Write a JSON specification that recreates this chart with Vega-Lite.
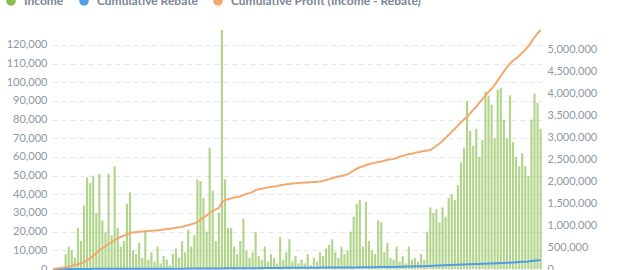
{
  "$schema": "https://vega.github.io/schema/vega-lite/v6.json",
  "width": 490,
  "height": 239,
  "autosize": {"type": "none"},
  "padding": {"left": 52, "top": 30, "right": 80, "bottom": 1},
  "config": {
    "font": "Lato",
    "view": {"stroke": null},
    "axis": {
      "labelFont": "Lato",
      "labelFontSize": 11,
      "labelColor": "#8e96a6",
      "labelOverlap": false,
      "domain": false,
      "ticks": false,
      "labelPadding": 5,
      "title": null
    }
  },
  "data": {
    "values": [
      {"day": 0, "income": 0, "rebate": 0, "profit": 0},
      {"day": 1, "income": 300, "rebate": 0, "profit": 10000},
      {"day": 2, "income": 500, "rebate": 0, "profit": 20000},
      {"day": 3, "income": 800, "rebate": 0, "profit": 30000},
      {"day": 4, "income": 8000, "rebate": 500, "profit": 40000},
      {"day": 5, "income": 12000, "rebate": 500, "profit": 50000},
      {"day": 6, "income": 10000, "rebate": 1000, "profit": 70000},
      {"day": 7, "income": 6000, "rebate": 1000, "profit": 90000},
      {"day": 8, "income": 22000, "rebate": 1000, "profit": 110000},
      {"day": 9, "income": 15000, "rebate": 1500, "profit": 130000},
      {"day": 10, "income": 34000, "rebate": 2000, "profit": 150000},
      {"day": 11, "income": 49000, "rebate": 2000, "profit": 200000},
      {"day": 12, "income": 46000, "rebate": 2500, "profit": 250000},
      {"day": 13, "income": 50000, "rebate": 3000, "profit": 300000},
      {"day": 14, "income": 30000, "rebate": 3000, "profit": 360000},
      {"day": 15, "income": 51000, "rebate": 3000, "profit": 430000},
      {"day": 16, "income": 26000, "rebate": 3500, "profit": 470000},
      {"day": 17, "income": 20000, "rebate": 3500, "profit": 520000},
      {"day": 18, "income": 51000, "rebate": 4000, "profit": 570000},
      {"day": 19, "income": 18000, "rebate": 4000, "profit": 610000},
      {"day": 20, "income": 55000, "rebate": 4000, "profit": 660000},
      {"day": 21, "income": 22000, "rebate": 4500, "profit": 700000},
      {"day": 22, "income": 12000, "rebate": 4500, "profit": 730000},
      {"day": 23, "income": 15000, "rebate": 5000, "profit": 760000},
      {"day": 24, "income": 35000, "rebate": 5000, "profit": 790000},
      {"day": 25, "income": 41000, "rebate": 5000, "profit": 820000},
      {"day": 26, "income": 10000, "rebate": 5500, "profit": 830000},
      {"day": 27, "income": 8000, "rebate": 5500, "profit": 840000},
      {"day": 28, "income": 14000, "rebate": 6000, "profit": 850000},
      {"day": 29, "income": 6000, "rebate": 6000, "profit": 855000},
      {"day": 30, "income": 20000, "rebate": 6000, "profit": 860000},
      {"day": 31, "income": 5000, "rebate": 6000, "profit": 865000},
      {"day": 32, "income": 9000, "rebate": 6500, "profit": 870000},
      {"day": 33, "income": 4000, "rebate": 6500, "profit": 875000},
      {"day": 34, "income": 12000, "rebate": 7000, "profit": 885000},
      {"day": 35, "income": 3000, "rebate": 7000, "profit": 890000},
      {"day": 36, "income": 7000, "rebate": 7000, "profit": 900000},
      {"day": 37, "income": 5000, "rebate": 7500, "profit": 910000},
      {"day": 38, "income": 2000, "rebate": 7500, "profit": 920000},
      {"day": 39, "income": 8000, "rebate": 8000, "profit": 930000},
      {"day": 40, "income": 11000, "rebate": 8000, "profit": 940000},
      {"day": 41, "income": 6000, "rebate": 8000, "profit": 950000},
      {"day": 42, "income": 15000, "rebate": 8500, "profit": 960000},
      {"day": 43, "income": 9000, "rebate": 8500, "profit": 980000},
      {"day": 44, "income": 21000, "rebate": 9000, "profit": 1000000},
      {"day": 45, "income": 12000, "rebate": 9000, "profit": 1020000},
      {"day": 46, "income": 18000, "rebate": 9000, "profit": 1040000},
      {"day": 47, "income": 48000, "rebate": 9500, "profit": 1070000},
      {"day": 48, "income": 47000, "rebate": 9500, "profit": 1120000},
      {"day": 49, "income": 38000, "rebate": 10000, "profit": 1170000},
      {"day": 50, "income": 20000, "rebate": 10000, "profit": 1220000},
      {"day": 51, "income": 65000, "rebate": 11000, "profit": 1280000},
      {"day": 52, "income": 42000, "rebate": 12000, "profit": 1320000},
      {"day": 53, "income": 15000, "rebate": 12000, "profit": 1360000},
      {"day": 54, "income": 30000, "rebate": 13000, "profit": 1390000},
      {"day": 55, "income": 128000, "rebate": 14000, "profit": 1520000},
      {"day": 56, "income": 48000, "rebate": 15000, "profit": 1570000},
      {"day": 57, "income": 22000, "rebate": 15000, "profit": 1590000},
      {"day": 58, "income": 22000, "rebate": 15000, "profit": 1610000},
      {"day": 59, "income": 12000, "rebate": 16000, "profit": 1630000},
      {"day": 60, "income": 8000, "rebate": 16000, "profit": 1640000},
      {"day": 61, "income": 15000, "rebate": 16000, "profit": 1660000},
      {"day": 62, "income": 27000, "rebate": 17000, "profit": 1690000},
      {"day": 63, "income": 10000, "rebate": 17000, "profit": 1710000},
      {"day": 64, "income": 6000, "rebate": 18000, "profit": 1730000},
      {"day": 65, "income": 9000, "rebate": 18000, "profit": 1760000},
      {"day": 66, "income": 20000, "rebate": 19000, "profit": 1800000},
      {"day": 67, "income": 7000, "rebate": 19000, "profit": 1820000},
      {"day": 68, "income": 5000, "rebate": 20000, "profit": 1830000},
      {"day": 69, "income": 12000, "rebate": 20000, "profit": 1850000},
      {"day": 70, "income": 4000, "rebate": 20000, "profit": 1860000},
      {"day": 71, "income": 8000, "rebate": 21000, "profit": 1870000},
      {"day": 72, "income": 6000, "rebate": 22000, "profit": 1880000},
      {"day": 73, "income": 3000, "rebate": 23000, "profit": 1890000},
      {"day": 74, "income": 17000, "rebate": 24000, "profit": 1910000},
      {"day": 75, "income": 5000, "rebate": 25000, "profit": 1920000},
      {"day": 76, "income": 9000, "rebate": 26000, "profit": 1930000},
      {"day": 77, "income": 16000, "rebate": 26000, "profit": 1940000},
      {"day": 78, "income": 4000, "rebate": 27000, "profit": 1950000},
      {"day": 79, "income": 7000, "rebate": 27000, "profit": 1955000},
      {"day": 80, "income": 3000, "rebate": 28000, "profit": 1960000},
      {"day": 81, "income": 5000, "rebate": 28000, "profit": 1965000},
      {"day": 82, "income": 3000, "rebate": 29000, "profit": 1970000},
      {"day": 83, "income": 8000, "rebate": 29000, "profit": 1975000},
      {"day": 84, "income": 2000, "rebate": 30000, "profit": 1980000},
      {"day": 85, "income": 6000, "rebate": 30000, "profit": 1985000},
      {"day": 86, "income": 4000, "rebate": 31000, "profit": 1990000},
      {"day": 87, "income": 9000, "rebate": 31000, "profit": 1995000},
      {"day": 88, "income": 7000, "rebate": 32000, "profit": 2010000},
      {"day": 89, "income": 11000, "rebate": 32000, "profit": 2030000},
      {"day": 90, "income": 13000, "rebate": 33000, "profit": 2050000},
      {"day": 91, "income": 16000, "rebate": 33000, "profit": 2070000},
      {"day": 92, "income": 9000, "rebate": 34000, "profit": 2090000},
      {"day": 93, "income": 6000, "rebate": 34000, "profit": 2110000},
      {"day": 94, "income": 12000, "rebate": 35000, "profit": 2120000},
      {"day": 95, "income": 8000, "rebate": 35000, "profit": 2140000},
      {"day": 96, "income": 10000, "rebate": 36000, "profit": 2160000},
      {"day": 97, "income": 20000, "rebate": 36000, "profit": 2200000},
      {"day": 98, "income": 28000, "rebate": 37000, "profit": 2250000},
      {"day": 99, "income": 35000, "rebate": 37000, "profit": 2290000},
      {"day": 100, "income": 37000, "rebate": 38000, "profit": 2320000},
      {"day": 101, "income": 12000, "rebate": 38000, "profit": 2340000},
      {"day": 102, "income": 36000, "rebate": 39000, "profit": 2370000},
      {"day": 103, "income": 15000, "rebate": 40000, "profit": 2390000},
      {"day": 104, "income": 10000, "rebate": 41000, "profit": 2410000},
      {"day": 105, "income": 8000, "rebate": 42000, "profit": 2420000},
      {"day": 106, "income": 26000, "rebate": 43000, "profit": 2440000},
      {"day": 107, "income": 25000, "rebate": 44000, "profit": 2450000},
      {"day": 108, "income": 9000, "rebate": 44000, "profit": 2470000},
      {"day": 109, "income": 14000, "rebate": 45000, "profit": 2490000},
      {"day": 110, "income": 6000, "rebate": 45000, "profit": 2500000},
      {"day": 111, "income": 5000, "rebate": 47000, "profit": 2510000},
      {"day": 112, "income": 12000, "rebate": 49000, "profit": 2530000},
      {"day": 113, "income": 4000, "rebate": 51000, "profit": 2560000},
      {"day": 114, "income": 7000, "rebate": 53000, "profit": 2580000},
      {"day": 115, "income": 3000, "rebate": 55000, "profit": 2600000},
      {"day": 116, "income": 12000, "rebate": 57000, "profit": 2620000},
      {"day": 117, "income": 5000, "rebate": 59000, "profit": 2630000},
      {"day": 118, "income": 6000, "rebate": 60000, "profit": 2650000},
      {"day": 119, "income": 4000, "rebate": 61000, "profit": 2660000},
      {"day": 120, "income": 8000, "rebate": 62000, "profit": 2680000},
      {"day": 121, "income": 5000, "rebate": 65000, "profit": 2690000},
      {"day": 122, "income": 20000, "rebate": 68000, "profit": 2700000},
      {"day": 123, "income": 33000, "rebate": 71000, "profit": 2710000},
      {"day": 124, "income": 30000, "rebate": 74000, "profit": 2760000},
      {"day": 125, "income": 32000, "rebate": 77000, "profit": 2810000},
      {"day": 126, "income": 25000, "rebate": 80000, "profit": 2860000},
      {"day": 127, "income": 33000, "rebate": 83000, "profit": 2920000},
      {"day": 128, "income": 28000, "rebate": 86000, "profit": 2990000},
      {"day": 129, "income": 38000, "rebate": 89000, "profit": 3060000},
      {"day": 130, "income": 40000, "rebate": 92000, "profit": 3130000},
      {"day": 131, "income": 37000, "rebate": 95000, "profit": 3200000},
      {"day": 132, "income": 45000, "rebate": 98000, "profit": 3270000},
      {"day": 133, "income": 57000, "rebate": 101000, "profit": 3340000},
      {"day": 134, "income": 65000, "rebate": 104000, "profit": 3410000},
      {"day": 135, "income": 90000, "rebate": 107000, "profit": 3470000},
      {"day": 136, "income": 74000, "rebate": 110000, "profit": 3550000},
      {"day": 137, "income": 66000, "rebate": 112000, "profit": 3630000},
      {"day": 138, "income": 75000, "rebate": 114000, "profit": 3700000},
      {"day": 139, "income": 60000, "rebate": 116000, "profit": 3790000},
      {"day": 140, "income": 69000, "rebate": 118000, "profit": 3870000},
      {"day": 141, "income": 95000, "rebate": 120000, "profit": 3960000},
      {"day": 142, "income": 93000, "rebate": 123000, "profit": 4040000},
      {"day": 143, "income": 88000, "rebate": 126000, "profit": 4110000},
      {"day": 144, "income": 70000, "rebate": 129000, "profit": 4200000},
      {"day": 145, "income": 96000, "rebate": 132000, "profit": 4300000},
      {"day": 146, "income": 97000, "rebate": 135000, "profit": 4400000},
      {"day": 147, "income": 80000, "rebate": 138000, "profit": 4500000},
      {"day": 148, "income": 70000, "rebate": 141000, "profit": 4600000},
      {"day": 149, "income": 93000, "rebate": 144000, "profit": 4680000},
      {"day": 150, "income": 68000, "rebate": 148000, "profit": 4750000},
      {"day": 151, "income": 60000, "rebate": 153000, "profit": 4800000},
      {"day": 152, "income": 55000, "rebate": 158000, "profit": 4860000},
      {"day": 153, "income": 62000, "rebate": 163000, "profit": 4930000},
      {"day": 154, "income": 55000, "rebate": 168000, "profit": 5000000},
      {"day": 155, "income": 50000, "rebate": 173000, "profit": 5080000},
      {"day": 156, "income": 80000, "rebate": 180000, "profit": 5180000},
      {"day": 157, "income": 94000, "rebate": 188000, "profit": 5280000},
      {"day": 158, "income": 89000, "rebate": 196000, "profit": 5370000},
      {"day": 159, "income": 75000, "rebate": 205000, "profit": 5450000}
    ]
  },
  "encoding": {
    "x": {
      "field": "day",
      "type": "ordinal",
      "axis": null,
      "scale": {"paddingInner": 0.3, "paddingOuter": 0.1}
    }
  },
  "layer": [
    {
      "mark": {"type": "bar", "opacity": 0.65},
      "encoding": {
        "y": {
          "field": "income",
          "type": "quantitative",
          "scale": {"domain": [0, 128000], "nice": false},
          "axis": {
            "orient": "left",
            "values": [0, 10000, 20000, 30000, 40000, 50000, 60000, 70000, 80000, 90000, 100000, 110000, 120000],
            "format": ",.0f",
            "labelOverlap": false,
            "grid": true,
            "gridColor": "#e4e7ec",
            "gridDash": [5, 4],
            "gridWidth": 1
          }
        },
        "color": {
          "datum": "Income",
          "type": "nominal",
          "scale": {
            "domain": ["Income", "Cumulative Rebate", "Cumulative Profit (Income - Rebate)"],
            "range": ["#88BF4D", "#509EE3", "#F2A86F"]
          },
          "legend": {
            "title": null,
            "orient": "none",
            "direction": "horizontal",
            "legendX": -47,
            "legendY": -35,
            "symbolType": "circle",
            "symbolSize": 90,
            "symbolOpacity": 1,
            "symbolStrokeWidth": 0,
            "labelFont": "Lato",
            "labelFontSize": 12,
            "labelFontWeight": "bold",
            "labelColor": "#7c8494",
            "labelOffset": 7,
            "columnPadding": 14,
            "labelLimit": 400,
            "encode": {
              "symbols": {
                "update": {
                  "fill": {"scale": "color", "field": "value"},
                  "opacity": {"value": 1}
                }
              }
            }
          }
        }
      }
    },
    {
      "layer": [
        {
          "mark": {"type": "line", "strokeWidth": 2},
          "encoding": {
            "y": {
              "field": "rebate",
              "type": "quantitative",
              "scale": {"domain": [0, 5450000], "nice": false},
              "axis": {
                "orient": "right",
                "values": [0, 500000, 1000000, 1500000, 2000000, 2500000, 3000000, 3500000, 4000000, 4500000, 5000000],
                "format": ",.0f",
                "labelOverlap": false,
                "grid": false
              }
            },
            "color": {"datum": "Cumulative Rebate", "type": "nominal"}
          }
        },
        {
          "mark": {"type": "line", "strokeWidth": 2},
          "encoding": {
            "y": {
              "field": "profit",
              "type": "quantitative",
              "axis": {
                "orient": "right",
                "values": [0, 500000, 1000000, 1500000, 2000000, 2500000, 3000000, 3500000, 4000000, 4500000, 5000000],
                "format": ",.0f",
                "labelOverlap": false,
                "grid": false
              }
            },
            "color": {"datum": "Cumulative Profit (Income - Rebate)", "type": "nominal"}
          }
        }
      ]
    }
  ],
  "resolve": {"scale": {"y": "independent"}}
}
